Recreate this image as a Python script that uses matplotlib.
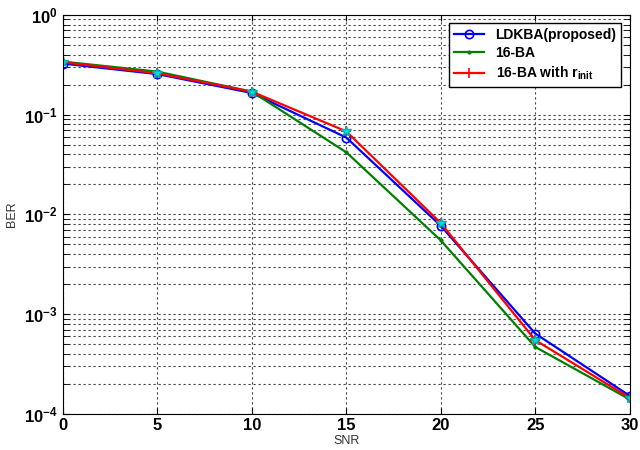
import matplotlib
matplotlib.use('Agg')
import matplotlib.pyplot as plt
from matplotlib.ticker import LogLocator, NullFormatter

plt.rcParams['font.family'] = ['Liberation Sans', 'DejaVu Sans']

snr = [0, 5, 10, 15, 20, 25, 30]
ber_ldkba = [0.325, 0.255, 0.165, 0.059, 0.0077, 6.4e-4, 1.52e-4]
ber_16ba = [0.34, 0.27, 0.17, 0.042, 0.0055, 4.7e-4, 1.4e-4]
ber_16ba_rinit = [0.335, 0.26, 0.17, 0.068, 0.0082, 5.5e-4, 1.45e-4]

fig = plt.figure(figsize=(6.4, 4.5), dpi=100)
ax = fig.add_axes([0.098, 0.08, 0.886, 0.887])

ax.plot(snr, ber_ldkba, color='#0000ff', lw=1.6, marker='o', ms=6, mfc='none', mew=1.2,
        label='LDKBA(proposed)')
ax.plot(snr, ber_16ba, color='#008000', lw=1.6, marker='.', ms=4, label='16-BA')
ax.plot(snr, ber_16ba_rinit, color='#ff0000', lw=1.6, marker='+', ms=7, mew=1.2,
        label='16-BA with r$_{\\mathregular{init}}$')
ax.plot(snr, ber_16ba_rinit, ls='none', marker='*', ms=7, color='#00e0e0', mec='#00b0b0')

ax.set_yscale('log')
ax.set_xlim(0, 30)
ax.set_ylim(1e-4, 1)
ax.set_xticks([0, 5, 10, 15, 20, 25, 30])
ax.yaxis.set_major_locator(LogLocator(base=10, numticks=10))
ax.yaxis.set_minor_locator(LogLocator(base=10, subs=range(2, 10), numticks=10))
ax.yaxis.set_minor_formatter(NullFormatter())
for lab in ax.get_xticklabels() + ax.get_yticklabels():
    lab.set_fontweight('bold')
    lab.set_fontsize(12)
ax.tick_params(direction='in', length=4, which='both', top=True, right=True)
ax.tick_params(axis='x', pad=3)

ax.grid(True, which='major', ls=(0, (2, 2.5)), color='#444444', lw=0.8)
ax.grid(True, which='minor', axis='y', ls=(0, (2, 2.5)), color='#444444', lw=0.8)

ax.set_xlabel('SNR', fontsize=9, color='#333333', labelpad=1)
ax.set_ylabel('BER', fontsize=9, color='#333333', labelpad=4)

leg = ax.legend(loc='upper right', fontsize=10, fancybox=False, framealpha=1,
                edgecolor='black', borderpad=0.35, handlelength=2.2, labelspacing=0.3,
                borderaxespad=0.6)
for t in leg.get_texts():
    t.set_fontweight('bold')

fig.savefig('out.png', dpi=100)
